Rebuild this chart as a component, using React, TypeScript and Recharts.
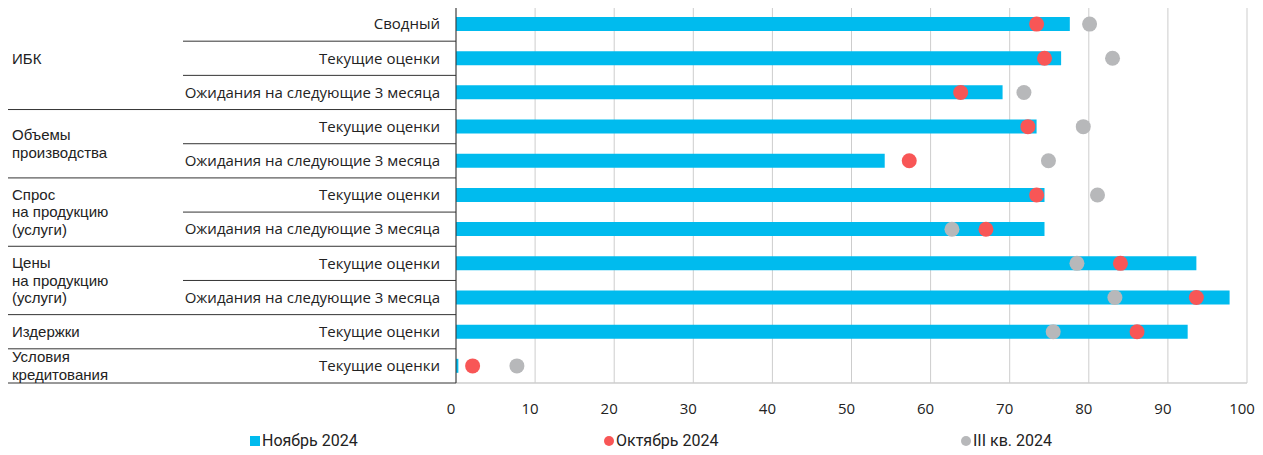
import React from 'react';
import { ComposedChart, Bar, Line, XAxis, YAxis, CartesianGrid, Legend } from 'recharts';

// группы показателей (левая колонка)
const groupNames = [
  ['ИБК'],
  ['Объемы', 'производства'],
  ['Спрос', 'на продукцию', '(услуги)'],
  ['Цены', 'на продукцию', '(услуги)'],
  ['Издержки'],
  ['Условия', 'кредитования'],
];
const groupSizes = [3, 2, 2, 2, 1, 1];

const rowLabels = [
  'Сводный',
  'Текущие оценки',
  'Ожидания на следующие 3 месяца',
  'Текущие оценки',
  'Ожидания на следующие 3 месяца',
  'Текущие оценки',
  'Ожидания на следующие 3 месяца',
  'Текущие оценки',
  'Ожидания на следующие 3 месяца',
  'Текущие оценки',
  'Текущие оценки',
];

const nov2024 = [77.6, 76.5, 69.1, 73.4, 54.2, 74.4, 74.4, 93.6, 97.8, 92.5, 0.3];
const oct2024 = [73.4, 74.4, 63.8, 72.3, 57.3, 73.4, 67.0, 84.0, 93.6, 86.1, 2.1];
const q3of2024 = [80.1, 83.0, 71.8, 79.3, 74.9, 81.1, 62.7, 78.5, 83.3, 75.5, 7.7];

const xTicks = [0, 10, 20, 30, 40, 50, 60, 70, 80, 90, 100];
const seriesNames = ['Ноябрь 2024', 'Октябрь 2024', 'III кв. 2024'];

const BLUE = '#00BBEE';
const RED = '#F85656';
const GRAY = '#B7B8BA';
const LINE = '#333';
const FONT = '"Open Sans", "Noto Sans", sans-serif';
const GROUP_FONT = '"Liberation Sans", Arial, sans-serif';

const W = 1263;
const H = 455;
const MARGIN = { top: 7, right: 16, bottom: 0, left: 0 };
const Y_W = 456;
const X_H = 28;
const LEGEND_H = 44;
const ROW_H = (H - MARGIN.top - MARGIN.bottom - X_H - LEGEND_H) / rowLabels.length;

// номер группы и позиция строки внутри группы
const rowGroup: number[] = [];
const rowPos: number[] = [];
groupSizes.forEach((n, g) => {
  for (let k = 0; k < n; k++) {
    rowGroup.push(g);
    rowPos.push(k);
  }
});

const data = rowLabels.map((label, i) => ({
  key: 'r' + i,
  label,
  nov: nov2024[i],
  oct: oct2024[i],
  q3: q3of2024[i],
}));

const RowTick = (props: any) => {
  const { y, payload } = props;
  const i = data.findIndex(d => d.key === payload.value);
  if (i < 0) return null;
  const half = ROW_H / 2;
  const g = rowGroup[i];
  const first = rowPos[i] === 0;
  const last = rowPos[i] === groupSizes[g] - 1;
  const lines = groupNames[g];
  const groupCenter = y - half + (groupSizes[g] * ROW_H) / 2;
  const lh = 17.5;
  const top = groupCenter - ((lines.length - 1) / 2) * lh;
  return (
    <g>
      {i === 0 && <line x1={8} x2={Y_W} y1={y - half} y2={y - half} stroke={LINE} />}
      <line x1={last ? 8 : 183} x2={Y_W} y1={y + half} y2={y + half} stroke={LINE} />
      <text x={440} y={y} dy="0.35em" textAnchor="end" fontSize={15} fill="#222" fontFamily={FONT}>
        {rowLabels[i]}
      </text>
      {first && (
        <text x={12} y={top} fontSize={15} fill="#222" fontFamily={GROUP_FONT}>
          {lines.map((t, k) => (
            <tspan key={k} x={12} dy={k === 0 ? '0.35em' : lh}>
              {t}
            </tspan>
          ))}
        </text>
      )}
    </g>
  );
};

const legendItems = [
  { name: seriesNames[0], color: BLUE, round: false, left: 250 },
  { name: seriesNames[1], color: RED, round: true, left: 604 },
  { name: seriesNames[2], color: GRAY, round: true, left: 961 },
];

const LegendContent = () => (
  <div style={{ position: 'relative', height: LEGEND_H }}>
    {legendItems.map(it => (
      <div
        key={it.name}
        style={{
          position: 'absolute',
          left: it.left,
          top: 20,
          display: 'flex',
          alignItems: 'center',
          fontFamily: '"Liberation Sans Narrow", "Roboto", sans-serif',
          fontSize: 16,
          color: '#222',
          whiteSpace: 'nowrap',
        }}
      >
        <span
          style={{
            display: 'inline-block',
            width: 10,
            height: 10,
            borderRadius: it.round ? '50%' : 0,
            background: it.color,
            marginRight: 2,
          }}
        />
        <span>{it.name}</span>
      </div>
    ))}
  </div>
);

export default function App() {
  return (
    <div style={{ margin: '-8px 0 0 -8px', width: W, height: H }}>
      <ComposedChart width={W} height={H} data={data} layout="vertical" margin={MARGIN}>
        <CartesianGrid
          stroke="#cdcdcd"
          vertical
          horizontal
          horizontalCoordinatesGenerator={({ offset }: any) => [offset.top, offset.top + offset.height]}
        />
        <XAxis
          type="number"
          domain={[0, 100]}
          ticks={xTicks}
          interval={0}
          height={X_H}
          axisLine={{ stroke: '#cdcdcd' }}
          tickLine={false}
          tickMargin={14}
          tick={{ fontSize: 15, fill: '#222', fontFamily: FONT, dx: -5 }}
        />
        <YAxis
          type="category"
          dataKey="key"
          width={Y_W}
          axisLine={{ stroke: LINE }}
          tickLine={false}
          tick={<RowTick />}
          interval={0}
        />
        <Bar dataKey="nov" name={seriesNames[0]} fill={BLUE} barSize={14} isAnimationActive={false} />
        <Line
          dataKey="q3"
          name={seriesNames[2]}
          stroke="none"
          dot={{ r: 7.5, fill: GRAY, stroke: 'none' }}
          activeDot={false}
          isAnimationActive={false}
        />
        <Line
          dataKey="oct"
          name={seriesNames[1]}
          stroke="none"
          dot={{ r: 7.5, fill: RED, stroke: 'none' }}
          activeDot={false}
          isAnimationActive={false}
        />
        <Legend verticalAlign="bottom" height={LEGEND_H} content={<LegendContent />} />
      </ComposedChart>
    </div>
  );
}
